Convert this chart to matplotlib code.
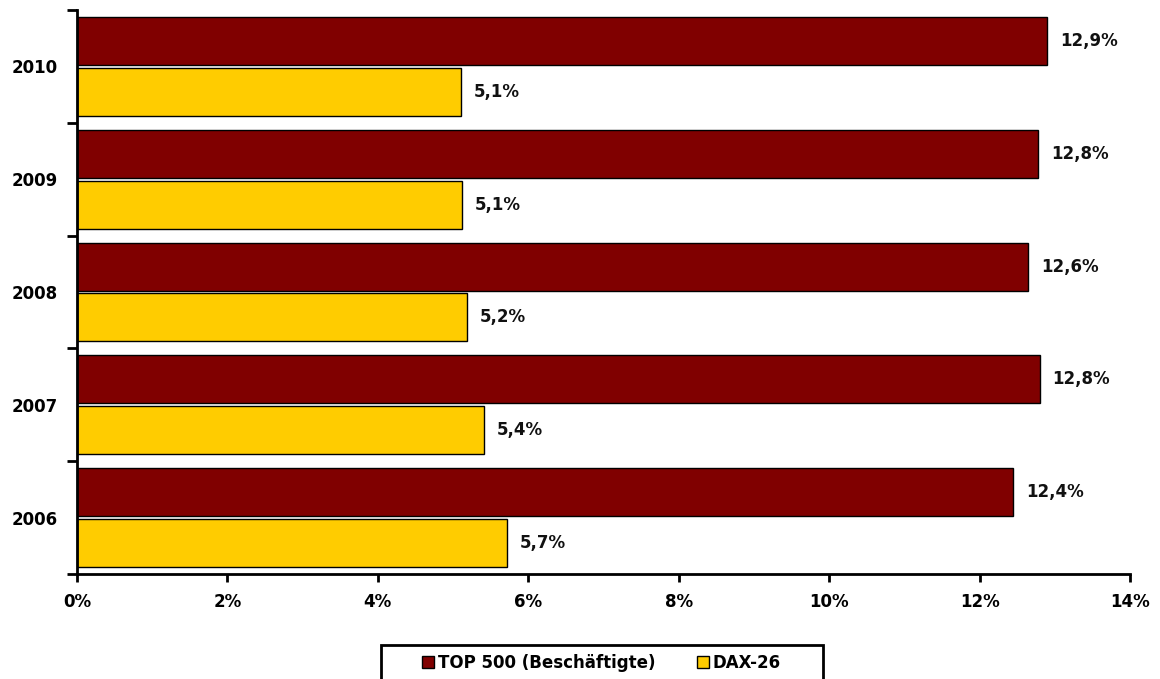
import matplotlib
matplotlib.use("Agg")
import matplotlib.pyplot as plt
from matplotlib.patches import Rectangle
from matplotlib.lines import Line2D
import numpy as np

years = ["2006", "2007", "2008", "2009", "2010"]
top500 = [12.45, 12.8, 12.65, 12.78, 12.9]
top500_labels = ["12,4%", "12,8%", "12,6%", "12,8%", "12,9%"]
dax26 = [5.72, 5.41, 5.19, 5.12, 5.1]
dax26_labels = ["5,7%", "5,4%", "5,2%", "5,1%", "5,1%"]
series_names = ["TOP 500 (Beschäftigte)", "DAX-26"]
x_ticks = [0, 2, 4, 6, 8, 10, 12, 14]

plt.rcParams['font.family'] = ['DejaVu Sans']
fig = plt.figure(figsize=(11.6, 6.79), dpi=100)
ax = fig.add_axes([77/1160, 1-574/679, (1130-77)/1160, (574-10)/679])

pos = np.arange(len(years)) + 0.5
h = 0.425
c1, c2 = "#800000", "#FFCC00"
ax.barh(pos + 0.225, top500, height=h, color=c1, edgecolor="black", linewidth=1)
ax.barh(pos - 0.225, dax26, height=h, color=c2, edgecolor="black", linewidth=1)

for p, v, t in zip(pos, top500, top500_labels):
    ax.text(v + 0.17, p + 0.225, t, va="center", ha="left",
            fontsize=12, fontweight="bold", color="#111111")
for p, v, t in zip(pos, dax26, dax26_labels):
    ax.text(v + 0.17, p - 0.225, t, va="center", ha="left",
            fontsize=12, fontweight="bold", color="#111111")

ax.set_xlim(0, 14)
ax.set_ylim(0, len(years))
ax.set_xticks(x_ticks)
ax.set_xticklabels([f"{t}%" for t in x_ticks], fontsize=12, fontweight="bold")
ax.set_yticks(np.arange(len(years) + 1))
ax.set_yticklabels([])
ax.set_yticks(pos, minor=True)
ax.set_yticklabels(years, minor=True, fontsize=12, fontweight="bold")
ax.tick_params(axis="y", which="minor", length=0, pad=14)
ax.tick_params(axis="y", which="major", length=7, width=2, direction="out")
ax.tick_params(axis="x", length=6, width=2, direction="out", pad=8)
for s in ["top", "right"]:
    ax.spines[s].set_visible(False)
for s in ["left", "bottom"]:
    ax.spines[s].set_linewidth(2)

# legend box
W, H = 1160, 679
fig.patches.append(Rectangle((381/W, 0 - 10/H), (823-381)/W, (679-645+10)/H,
                             transform=fig.transFigure, fill=False,
                             edgecolor="black", linewidth=2, clip_on=False))
handles = [Line2D([], [], marker="s", linestyle="none", markersize=9,
                  markerfacecolor=c, markeredgecolor="black", markeredgewidth=1)
           for c in (c1, c2)]
leg = fig.legend(handles=handles, labels=series_names, loc="center",
                 bbox_to_anchor=(602/W, 1-663/H), ncol=2, frameon=False,
                 prop={"weight": "bold", "size": 12}, handlelength=0.6,
                 handletextpad=0.25, columnspacing=2.6, borderpad=0)

fig.savefig("out.png", dpi=100)
